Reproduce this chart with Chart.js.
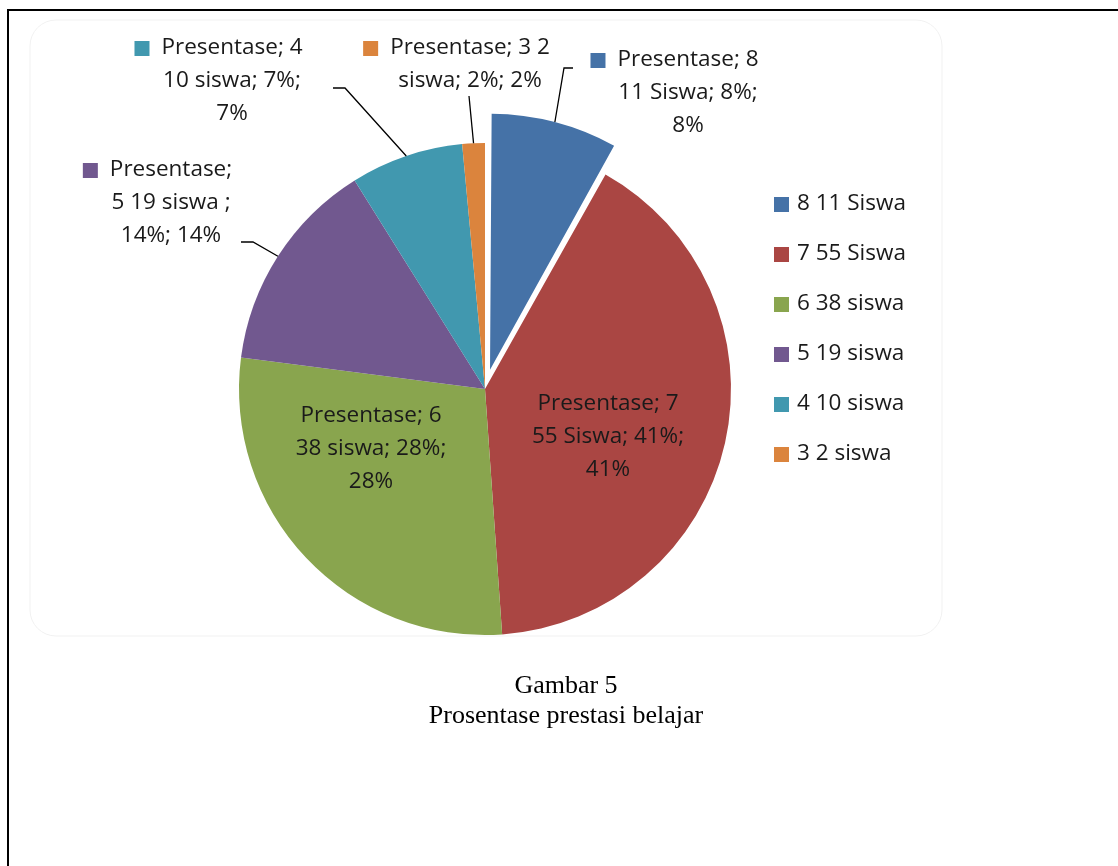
<!DOCTYPE html>
<html>
<head>
<meta charset="utf-8">
<script src="https://cdn.jsdelivr.net/npm/chart.js@4.4.1/dist/chart.umd.min.js"></script>
<style>
html, body { margin:0; padding:0; background:#fff; overflow:hidden; }
#page { position:relative; width:1118px; height:866px; }
#frame { position:absolute; left:7px; top:9px; width:1200px; height:1000px; border:2px solid #000; box-sizing:border-box; }
#chart { position:absolute; left:0; top:0; }
.caption { position:absolute; left:0; width:1132px; text-align:center; font-family:"Liberation Serif","Times New Roman",serif; font-size:26px; line-height:30px; color:#000; }
</style>
</head>
<body>
<div id="page">
<div id="frame"></div>
<canvas id="chart" width="1118" height="866"></canvas>
<div class="caption" style="top:670px">Gambar 5</div>
<div class="caption" style="top:700px">Prosentase prestasi belajar</div>
</div>
<script>
// data
var kategori = ['8 11 Siswa', '7 55 Siswa', '6 38 siswa', '5 19 siswa', '4 10 siswa', '3 2 siswa'];
var jumlahSiswa = [11, 55, 38, 19, 10, 2];
var warna = ['#4572A7', '#AA4643', '#89A54E', '#71588F', '#4198AF', '#DB843D'];
var labelBaris = [
    ['Presentase; 8', '11 Siswa; 8%;', '8%'],
    ['Presentase; 7', '55 Siswa; 41%;', '41%'],
    ['Presentase; 6', '38 siswa; 28%;', '28%'],
    ['Presentase;', '5 19 siswa ;', '14%; 14%'],
    ['Presentase; 4', '10 siswa; 7%;', '7%'],
    ['Presentase; 3 2', 'siswa; 2%; 2%']
];
// slice pulled out of the pie (px)
var geserPx = [30, 0, 0, 0, 0, 0];

// label layout, offsets from pie centre (px)
var posLabel = [
    {x: 203, y: -329, key: true, leader: [[79, -321], [88, -321]]},
    {x: 123, y: 15},
    {x: -114, y: 27},
    {x: -314, y: -219, key: true, leader: [[-232, -147], [-244, -147]]},
    {x: -253, y: -341, key: true, leader: [[-140, -301], [-152, -301]]},
    {x: -15, y: -341, key: true, leader: [[-16, -293]]}
];
var FONT = '22.5px "Open Sans"';
var LINE_H = 33;

// chart.js arc moves offset/4 * (1 + fix), convert the wanted pixels to that option
var total = jumlahSiswa.reduce(function(a, b){ return a + b; }, 0);
var offsetOpsi = geserPx.map(function(px, i){
    var circ = 2 * Math.PI * jumlahSiswa[i] / total;
    var fix = 1 - Math.sin(Math.min(Math.PI, circ));
    return px / (0.25 * (1 + fix));
});
var maxOff = Math.max.apply(null, offsetOpsi);

var bingkaiPlugin = {
    id: 'bingkai',
    beforeDraw: function(chart){
        var ctx = chart.ctx;
        ctx.save();
        ctx.strokeStyle = '#f1f1f1';
        ctx.lineWidth = 1;
        ctx.beginPath();
        ctx.roundRect(30, 20, 912, 616, 26);
        ctx.stroke();
        ctx.restore();
    }
};

var labelPlugin = {
    id: 'labelIrisan',
    afterDatasetsDraw: function(chart){
        var ctx = chart.ctx;
        var meta = chart.getDatasetMeta(0);
        var cx = meta.data[0].x, cy = meta.data[0].y;
        var r = meta.data[0].outerRadius;
        ctx.save();
        ctx.font = FONT;
        ctx.textAlign = 'center';
        ctx.textBaseline = 'middle';
        meta.data.forEach(function(arc, i){
            var mid = (arc.startAngle + arc.endAngle) / 2;
            var off = geserPx[i];
            var p = posLabel[i];
            if (p.leader) {
                ctx.strokeStyle = '#000';
                ctx.lineWidth = 1.3;
                ctx.beginPath();
                ctx.moveTo(cx + Math.cos(mid) * (r + off), cy + Math.sin(mid) * (r + off));
                p.leader.forEach(function(pt){ ctx.lineTo(cx + pt[0], cy + pt[1]); });
                ctx.stroke();
            }
            ctx.fillStyle = '#1a1a1a';
            labelBaris[i].forEach(function(t, j){
                ctx.fillText(t, cx + p.x, cy + p.y + j * LINE_H);
            });
            if (p.key) {
                var w = ctx.measureText(labelBaris[i][0]).width;
                ctx.fillStyle = warna[i];
                ctx.fillRect(cx + p.x - w / 2 - 12 - 15, cy + p.y - 7, 15, 15);
            }
        });
        ctx.restore();
    }
};

var legendaPlugin = {
    id: 'legenda',
    afterDraw: function(chart){
        var ctx = chart.ctx;
        ctx.save();
        ctx.font = FONT;
        ctx.textAlign = 'left';
        ctx.textBaseline = 'middle';
        chart.data.labels.forEach(function(l, i){
            var y = 204 + i * 50;
            ctx.fillStyle = warna[i];
            ctx.fillRect(774, y - 7, 15, 15);
            ctx.fillStyle = '#1a1a1a';
            ctx.fillText(l, 797, y);
        });
        ctx.restore();
    }
};

document.addEventListener('DOMContentLoaded', function(){
    // pie centre 485,389 radius 246
    var half = 246 + maxOff / 2;
    var ctx = document.getElementById('chart').getContext('2d');
    var myChart = new Chart(ctx, {
        type: 'pie',
        data: {
            labels: kategori,
            datasets: [{
                label: 'Presentase',
                data: jumlahSiswa,
                backgroundColor: warna,
                borderWidth: 0,
                offset: offsetOpsi,
                hoverOffset: 0
            }]
        },
        options: {
            responsive: false,
            animation: false,
            layout: {
                padding: {left: 485 - half, right: 1118 - 485 - half, top: 389 - half, bottom: 866 - 389 - half}
            },
            plugins: {
                legend: { display: false },
                tooltip: { enabled: false }
            }
        },
        plugins: [bingkaiPlugin, labelPlugin, legendaPlugin]
    });
});
</script>
</body>
</html>
